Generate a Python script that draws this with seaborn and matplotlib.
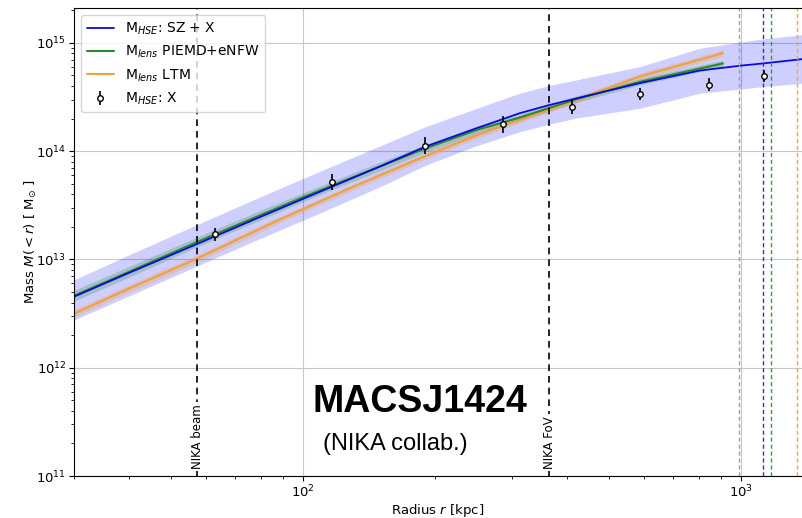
import numpy as np
import pandas as pd
import matplotlib
matplotlib.use("Agg")
import matplotlib.pyplot as plt
import seaborn as sns

# ---------------- data ----------------
# M_HSE: SZ + X  (line + band)
r_sz = [30, 40, 57.3, 80, 100, 150, 190, 250, 312, 365, 420, 587, 805, 1000, 1122, 1378]
m_sz = [4.53e12, 7.50e12, 1.39e13, 2.48e13, 3.63e13, 7.24e13, 1.10e14, 1.64e14,
        2.24e14, 2.67e14, 3.07e14, 4.25e14, 5.56e14, 6.17e14, 6.46e14, 7.08e14]
m_sz_lo = [2.76e12, 4.60e12, 8.70e12, 1.57e13, 2.30e13, 4.70e13, 7.40e13, 1.13e14,
           1.51e14, 1.78e14, 2.02e14, 2.49e14, 3.43e14, 3.75e14, 3.95e14, 4.24e14]
m_sz_hi = [6.47e12, 1.10e13, 2.10e13, 3.80e13, 5.60e13, 1.12e14, 1.68e14, 2.50e14,
           3.43e14, 4.05e14, 4.55e14, 6.04e14, 8.93e14, 1.02e15, 1.09e15, 1.19e15]

# M_lens PIEMD+eNFW
r_pie = [30, 40, 57.3, 80, 100, 150, 190, 250, 312, 365, 420, 587, 908]
m_pie = [4.62e12, 7.67e12, 1.45e13, 2.57e13, 3.76e13, 7.24e13, 1.06e14, 1.58e14,
         2.04e14, 2.51e14, 3.02e14, 4.37e14, 6.46e14]
w_pie = [0.05, 0.05, 0.045, 0.045, 0.04, 0.04, 0.035, 0.035, 0.03, 0.03, 0.03, 0.03, 0.03]

# M_lens LTM
r_ltm = [30, 40, 57.3, 88.5, 130, 190, 250, 312, 365, 421, 587, 908]
m_ltm = [3.16e12, 5.37e12, 1.02e13, 2.34e13, 4.68e13, 9.02e13, 1.41e14, 1.95e14,
         2.45e14, 2.99e14, 4.90e14, 8.04e14]
w_ltm = [0.035, 0.035, 0.035, 0.03, 0.03, 0.03, 0.03, 0.03, 0.03, 0.03, 0.03, 0.03]

# M_HSE: X (points with error bars)
r_x = [63.1, 116.1, 189.7, 285.3, 411.3, 588, 844, 1128]
m_x = [1.71e13, 5.23e13, 1.12e14, 1.77e14, 2.55e14, 3.36e14, 4.12e14, 4.96e14]
m_x_lo = [1.49e13, 4.42e13, 9.36e13, 1.48e14, 2.19e14, 2.96e14, 3.59e14, 4.37e14]
m_x_hi = [1.96e13, 6.21e13, 1.34e14, 2.13e14, 2.96e14, 3.81e14, 4.73e14, 5.62e14]

# vertical markers
r_beam = 57.3
r_fov = 364.5
r500_vals = [988, 1122, 1169, 1338]
r500_cols = ["#a0a0a0", "#3030d0", "#30a030", "#f0a830"]

c_blue = "#0a0adc"
c_green = "#2a8a2a"
c_orange = "#f0a040"

# ---------------- figure ----------------
sns.set_style("ticks")
plt.rcParams["font.family"] = ["DejaVu Sans"]
plt.rcParams["text.color"] = "black"
plt.rcParams["axes.labelcolor"] = "black"
plt.rcParams["xtick.color"] = "black"
plt.rcParams["ytick.color"] = "black"
plt.rcParams["axes.edgecolor"] = "black"

fig = plt.figure(figsize=(8.02, 5.18), dpi=100)
ax = fig.add_axes([74 / 802, 42 / 518, 728 / 802, 468 / 518])
ax.set_xscale("log")
ax.set_yscale("log")

ax.grid(True, which="major", color="#c8c8c8", lw=0.8)
ax.set_axisbelow(True)

# bands
ax.fill_between(r_sz, m_sz_lo, m_sz_hi, color="blue", alpha=0.19, lw=0)
mp = np.array(m_pie)
wp = np.array(w_pie)
ax.fill_between(r_pie, mp * 10 ** (-wp), mp * 10 ** wp, color=c_green, alpha=0.25, lw=0)
ml = np.array(m_ltm)
wl = np.array(w_ltm)
ax.fill_between(r_ltm, ml * 10 ** (-wl), ml * 10 ** wl, color=c_orange, alpha=0.3, lw=0)

# lines
df_sz = pd.DataFrame({"r": r_sz, "m": m_sz})
df_pie = pd.DataFrame({"r": r_pie, "m": m_pie})
df_ltm = pd.DataFrame({"r": r_ltm, "m": m_ltm})
sns.lineplot(data=df_ltm, x="r", y="m", ax=ax, color=c_orange, lw=1.5,
             label=r"M$_{lens}$ LTM", estimator=None)
sns.lineplot(data=df_pie, x="r", y="m", ax=ax, color=c_green, lw=1.5,
             label=r"M$_{lens}$ PIEMD+eNFW", estimator=None)
sns.lineplot(data=df_sz, x="r", y="m", ax=ax, color=c_blue, lw=1.3,
             label=r"M$_{HSE}$: SZ + X", estimator=None)

# points
mx = np.array(m_x)
yerr = [mx - np.array(m_x_lo), np.array(m_x_hi) - mx]
ax.errorbar(r_x, m_x, yerr=yerr, fmt="o", ms=4, mfc="white", mec="black",
            mew=1.0, ecolor="black", elinewidth=1.2, capsize=0,
            label=r"M$_{HSE}$: X", zorder=5)

# vertical lines
ax.axvline(r_beam, color="black", ls=(0, (4, 3)), lw=1.2)
ax.axvline(r_fov, color="black", ls=(0, (4, 3)), lw=1.2)
for rv, cv in zip(r500_vals, r500_cols):
    ax.axvline(rv, color=cv, ls=(0, (3, 2)), lw=1.0)

ax.text(r_beam, 1.17e11, "NIKA beam", rotation=90, ha="center", va="bottom",
        fontsize=8.5, bbox=dict(facecolor="white", edgecolor="none", pad=1.5), zorder=6)
ax.text(r_fov, 1.17e11, "NIKA FoV", rotation=90, ha="center", va="bottom",
        fontsize=8.5, bbox=dict(facecolor="white", edgecolor="none", pad=1.5), zorder=6)

ax.text(0.475, 0.158, "MACSJ1424", transform=ax.transAxes, ha="center", va="center",
        fontsize=27, fontweight="bold", color="black",
        family=["Liberation Sans", "DejaVu Sans"])
ax.text(0.442, 0.068, "(NIKA collab.)", transform=ax.transAxes, ha="center", va="center",
        fontsize=17, color="black", family=["Liberation Sans", "DejaVu Sans"])

ax.set_xlim(30, 1376)
ax.set_ylim(1e11, 2.1e15)
ax.set_xlabel(r"Radius $r$ [kpc]", fontsize=9.5, labelpad=1)
ax.set_ylabel(r"Mass $M(<r)$ [ M$_{\odot}$ ]", fontsize=9.5, labelpad=-2)
ax.tick_params(which="major", labelsize=9.5, length=3.5, pad=2)
ax.tick_params(which="minor", length=2)
ax.spines["right"].set_visible(False)

h, l = ax.get_legend_handles_labels()
order = [l.index(r"M$_{HSE}$: SZ + X"), l.index(r"M$_{lens}$ PIEMD+eNFW"),
         l.index(r"M$_{lens}$ LTM"), l.index(r"M$_{HSE}$: X")]
leg = ax.legend([h[i] for i in order], [l[i] for i in order], loc="upper left",
                fontsize=10, frameon=True, framealpha=0.8, edgecolor="#cccccc")

fig.savefig("out.png", dpi=100)
